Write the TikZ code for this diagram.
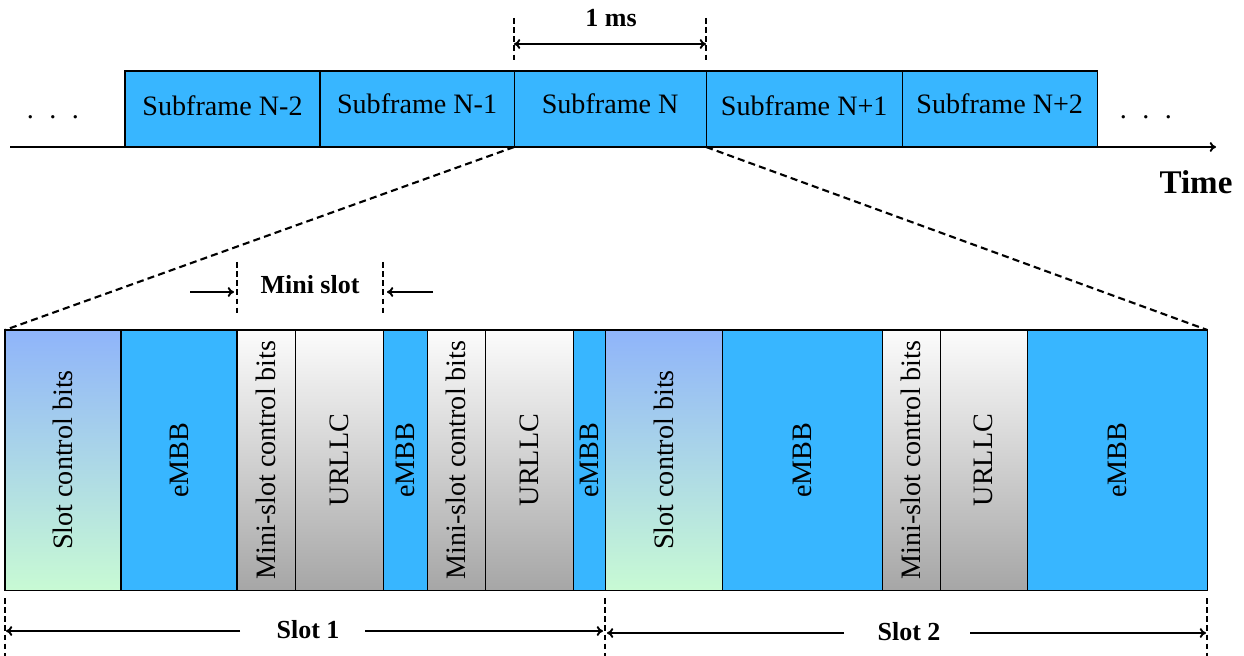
\documentclass[tikz,border=0pt]{standalone}
\usepackage{fontspec}
\setmainfont{Liberation Serif}
\usetikzlibrary{arrows,arrows.meta,calc}
\definecolor{embbblue}{RGB}{56,182,255}
\definecolor{ctltop}{RGB}{143,180,250}
\definecolor{ctlbot}{RGB}{200,250,212}
\definecolor{urtop}{RGB}{252,252,252}
\definecolor{urbot}{RGB}{166,166,166}
\tikzset{
         subbox/.style=
          {
           draw, line width=0.8pt, fill=embbblue, anchor=north west,
           inner sep=0pt, outer sep=0pt, minimum height=1.9cm,
           font=\fontsize{20}{24}\selectfont
          },
         cell/.style=
          {
           draw, line width=0.8pt, anchor=north west,
           inner sep=0pt, outer sep=0pt, minimum height=6.5cm,
           font=\fontsize{20}{24}\selectfont
          },
         ctlcell/.style={cell, top color=ctltop, bottom color=ctlbot},
         embbcell/.style={cell, fill=embbblue},
         urcell/.style={cell, top color=urtop, bottom color=urbot},
         boldlab/.style={font=\fontsize{18.5}{22}\selectfont\bfseries, inner sep=0pt},
         plainlab/.style={font=\fontsize{20}{24}\selectfont, inner sep=0pt},
         zoomline/.style={line width=1.5pt, dash pattern=on 5pt off 3pt},
         markline/.style={line width=1.1pt, dash pattern=on 4pt off 2.5pt},
         arrline/.style={line width=1.4pt}
        }

\begin{document}
\begin{tikzpicture}[x=0.025cm,y=-0.025cm,>={To[length=4.5pt,width=7pt]}]
    \useasboundingbox (0,0) rectangle (1244,656); % canvas
    \node[subbox,minimum width=4.875cm] (subM2) at (125,71) {\raisebox{5pt}{Subframe N-2}}; % subframes
    \node[subbox,minimum width=4.85cm] (subM1) at (subM2.north east) {\raisebox{8pt}{Subframe N-1}};
    \node[subbox,minimum width=4.8cm] (subN) at (subM1.north east) {\raisebox{8pt}{Subframe N}};
    \node[subbox,minimum width=4.9cm] (subP1) at (subN.north east) {\raisebox{5pt}{Subframe N+1}};
    \node[subbox,minimum width=4.875cm] (subP2) at (subP1.north east) {\raisebox{8pt}{Subframe N+2}};
    \node[plainlab] (dotsL) at (53,117) {.\hspace{0.55em}.\hspace{0.55em}.}; % dots
    \node[plainlab] (dotsR) at (1146,117) {.\hspace{0.55em}.\hspace{0.55em}.};
    \coordinate (axL) at (10,147); % time axis
    \coordinate (axR) at (1216,147);
    \draw[arrline,->] (axL) -- (axR);
    \node[boldlab,font=\fontsize{23.5}{28}\selectfont\bfseries] (timeLbl) at (1196,182) {Time}; % Time label
    \coordinate (msTopL) at (514,18); % 1 ms marker
    \coordinate (msBotL) at (514,60);
    \coordinate (msTopR) at (706,18);
    \coordinate (msBotR) at (706,60);
    \coordinate (msArrL) at (514,44);
    \coordinate (msArrR) at (706,44);
    \draw[markline] (msTopL) -- (msBotL);
    \draw[markline] (msTopR) -- (msBotR);
    \draw[arrline,<->] (msArrL) -- (msArrR);
    \node[boldlab] (msLbl) at (611,18) {1 ms}; % 1 ms label
    \node[ctlcell,minimum width=2.9cm] (ctlA) at (5,330) {\rotatebox{90}{Slot control bits}}; % slot 1
    \node[embbcell,minimum width=2.9cm] (embbA) at (ctlA.north east) {\rotatebox{90}{eMBB}};
    \node[urcell,minimum width=1.45cm] (mctlA) at (embbA.north east) {\rotatebox{90}{Mini-slot control bits}};
    \node[urcell,minimum width=2.2cm] (urllcA) at (mctlA.north east) {\rotatebox{90}{URLLC}};
    \node[embbcell,minimum width=1.1cm] (embbB) at (urllcA.north east) {\rotatebox{90}{eMBB}};
    \node[urcell,minimum width=1.45cm] (mctlB) at (embbB.north east) {\rotatebox{90}{Mini-slot control bits}};
    \node[urcell,minimum width=2.2cm] (urllcB) at (mctlB.north east) {\rotatebox{90}{URLLC}};
    \node[embbcell,minimum width=0.8cm] (embbC) at (urllcB.north east) {\rotatebox{90}{eMBB}};
    \node[ctlcell,minimum width=2.925cm] (ctlB) at (embbC.north east) {\rotatebox{90}{Slot control bits}}; % slot 2
    \node[embbcell,minimum width=4cm] (embbD) at (ctlB.north east) {\rotatebox{90}{eMBB}};
    \node[urcell,minimum width=1.45cm] (mctlC) at (embbD.north east) {\rotatebox{90}{Mini-slot control bits}};
    \node[urcell,minimum width=2.175cm] (urllcC) at (mctlC.north east) {\rotatebox{90}{URLLC}};
    \node[embbcell,minimum width=4.5cm] (embbE) at (urllcC.north east) {\rotatebox{90}{eMBB}};
    \draw[zoomline] (subN.south west) -- (ctlA.north west); % zoom lines
    \draw[zoomline] (subN.south east) -- (embbE.north east);
    \coordinate (miniTopL) at (237,262); % mini slot marker
    \coordinate (miniBotL) at (237,316);
    \coordinate (miniTopR) at (383,262);
    \coordinate (miniBotR) at (383,316);
    \coordinate (miniInL) at (190,292);
    \coordinate (miniTipL) at (234,292);
    \coordinate (miniInR) at (433,292);
    \coordinate (miniTipR) at (387,292);
    \draw[markline] (miniTopL) -- (miniBotL);
    \draw[markline] (miniTopR) -- (miniBotR);
    \draw[arrline,->] (miniInL) -- (miniTipL);
    \draw[arrline,->] (miniInR) -- (miniTipR);
    \node[boldlab] (miniLbl) at (310,285) {Mini slot}; % Mini slot label
    \coordinate (slA) at (5,598); % slot markers
    \coordinate (slAb) at (5,656);
    \coordinate (slB) at (605,598);
    \coordinate (slBb) at (605,656);
    \coordinate (slC) at (1207,598);
    \coordinate (slCb) at (1207,656);
    \draw[markline] (slA) -- (slAb);
    \draw[markline] (slB) -- (slBb);
    \draw[markline] (slC) -- (slCb);
    \coordinate (s1InL) at (240,631); % slot 1 arrows
    \coordinate (s1TipL) at (6,631);
    \coordinate (s1InR) at (365,631);
    \coordinate (s1TipR) at (603,631);
    \draw[arrline,->] (s1InL) -- (s1TipL);
    \draw[arrline,->] (s1InR) -- (s1TipR);
    \node[boldlab] (slot1Lbl) at (308,630) {Slot 1}; % Slot 1 label
    \coordinate (s2InL) at (844,633); % slot 2 arrows
    \coordinate (s2TipL) at (607,633);
    \coordinate (s2InR) at (970,633);
    \coordinate (s2TipR) at (1206,633);
    \draw[arrline,->] (s2InL) -- (s2TipL);
    \draw[arrline,->] (s2InR) -- (s2TipR);
    \node[boldlab] (slot2Lbl) at (909,632) {Slot 2}; % Slot 2 label
\end{tikzpicture}
\end{document}
